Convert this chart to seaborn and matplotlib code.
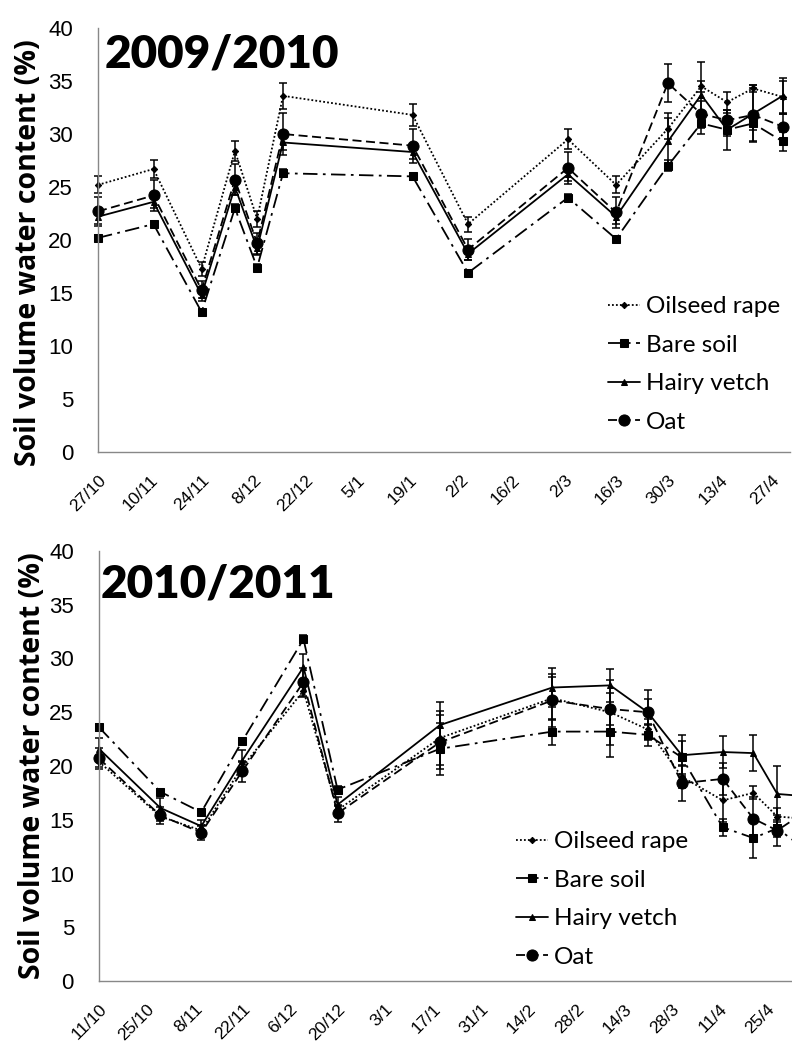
import matplotlib
matplotlib.use('Agg')
import matplotlib.pyplot as plt
import matplotlib.dates as mdates
import numpy as np
import pandas as pd
import seaborn as sns

treatments = ['Oilseed rape', 'Bare soil', 'Hairy vetch', 'Oat']

# 2009/2010 season
dates_0910 = ['2009-10-27', '2009-11-11', '2009-11-24', '2009-12-03', '2009-12-09',
              '2009-12-16', '2010-01-20', '2010-02-04', '2010-03-03', '2010-03-16',
              '2010-03-30', '2010-04-08', '2010-04-15', '2010-04-22', '2010-04-30']
oilseed_0910 = [25.2, 26.7, 17.3, 28.4, 22.0, 33.6, 31.8, 21.5, 29.5, 25.2, 30.5, 34.5, 33.0, 34.3, 33.5]
bare_0910 = [20.2, 21.5, 13.2, 23.0, 17.4, 26.3, 26.0, 16.9, 24.0, 20.1, 27.0, 31.0, 30.4, 31.0, 29.3]
vetch_0910 = [22.2, 23.6, 14.8, 25.0, 19.2, 29.2, 28.3, 18.7, 26.2, 22.2, 29.3, 33.7, 30.4, 31.9, 33.6]
oat_0910 = [22.7, 24.2, 15.3, 25.7, 19.7, 30.0, 28.9, 19.1, 26.8, 22.6, 34.8, 31.9, 31.3, 31.8, 30.7]
oilseed_err_0910 = [0.8, 0.85, 0.65, 0.95, 0.75, 1.2, 1.0, 0.7, 0.95, 0.8, 1.0, 0.5, 1.0, 0.3, 1.5]
bare_err_0910 = [0.3, 0.3, 0.3, 0.4, 0.3, 0.4, 0.3, 0.3, 0.3, 0.3, 0.5, 1.0, 0.6, 0.6, 0.9]
vetch_err_0910 = [0.7, 0.6, 0.6, 0.8, 0.6, 0.7, 0.7, 0.6, 0.6, 0.7, 2.7, 3.1, 1.9, 2.7, 1.7]
oat_err_0910 = [1.4, 1.5, 0.8, 1.5, 1.0, 2.0, 1.6, 1.0, 1.5, 1.5, 1.8, 1.2, 1.0, 2.5, 1.2]
ticks_0910 = pd.date_range('2009-10-27', periods=14, freq='14D')
xlim_0910 = ('2009-10-27', '2010-05-02')

# 2010/2011 season
dates_1011 = ['2010-10-11', '2010-10-29', '2010-11-10', '2010-11-22', '2010-12-10',
              '2010-12-20', '2011-01-19', '2011-02-21', '2011-03-10', '2011-03-21',
              '2011-03-31', '2011-04-12', '2011-04-21', '2011-04-28', '2011-05-06']
oilseed_1011 = [20.4, 15.3, 14.0, 19.9, 27.0, 15.9, 22.6, 26.3, 25.0, 23.4, 19.0, 16.8, 17.5, 15.3, 15.1]
bare_1011 = [23.6, 17.6, 15.7, 22.3, 31.8, 17.8, 21.6, 23.2, 23.2, 22.9, 20.8, 14.3, 13.3, 14.2, 12.3]
vetch_1011 = [21.6, 16.1, 14.4, 20.5, 29.2, 16.4, 23.8, 27.3, 27.5, 25.0, 21.0, 21.3, 21.2, 17.4, 17.2]
oat_1011 = [20.7, 15.4, 13.8, 19.5, 27.8, 15.6, 22.2, 26.1, 25.3, 25.0, 18.4, 18.8, 15.1, 14.0, 15.7]
oilseed_err_1011 = [0.5, 0.4, 0.4, 0.5, 0.6, 0.4, 2.5, 2.0, 3.0, 1.0, 1.0, 2.0, 0.6, 0.8, 0.5]
bare_err_1011 = [0.3, 0.3, 0.3, 0.3, 0.4, 0.3, 2.4, 1.2, 2.4, 1.0, 1.5, 0.8, 1.9, 0.8, 0.5]
vetch_err_1011 = [1.0, 0.9, 0.6, 1.0, 1.2, 0.7, 2.2, 1.8, 1.5, 2.1, 1.9, 1.5, 1.7, 2.6, 0.5]
oat_err_1011 = [1.0, 0.8, 0.7, 1.0, 1.3, 0.8, 2.5, 2.5, 1.5, 1.2, 1.7, 1.5, 2.0, 1.4, 0.5]
ticks_1011 = pd.date_range('2010-10-11', periods=15, freq='14D')
xlim_1011 = ('2010-10-11', '2011-05-02 08:00')

styles = {
    'Oilseed rape': dict(marker='D', markersize=3.2, linestyle=(0, (1, 1.2))),
    'Bare soil': dict(marker='s', markersize=5.5, linestyle=(0, (8, 3, 1.5, 3))),
    'Hairy vetch': dict(marker='^', markersize=5, linestyle='-'),
    'Oat': dict(marker='o', markersize=8, linestyle=(0, (5, 2.5))),
}

sns.set_style('white')
plt.rcParams['font.family'] = ['Liberation Sans', 'DejaVu Sans']
plt.rcParams['text.color'] = 'black'
plt.rcParams['axes.labelcolor'] = 'black'
plt.rcParams['xtick.color'] = 'black'
plt.rcParams['ytick.color'] = 'black'


def draw_panel(ax, dates, values, errors, ticks, xlim, title, title_xy, legend_xy, label_y):
    handles = []
    for name, vals, errs in zip(treatments, values, errors):
        df = pd.DataFrame({'date': pd.to_datetime(dates), 'swc': vals})
        sns.lineplot(data=df, x='date', y='swc', ax=ax, color='black', linewidth=1.3,
                     markeredgecolor='black', clip_on=False, **styles[name])
        handles.append(ax.lines[-1])
        ax.errorbar(df['date'], df['swc'], yerr=errs, fmt='none', ecolor='black',
                    elinewidth=1.1, capsize=3, capthick=1.1, clip_on=False)

    ax.set_ylim(0, 40)
    ax.set_yticks(np.arange(0, 41, 5))
    ax.set_xlim(pd.Timestamp(xlim[0]), pd.Timestamp(xlim[1]))
    ax.set_xticks(ticks)
    ax.xaxis.set_major_formatter(mdates.DateFormatter('%-d/%-m'))
    for lbl in ax.get_xticklabels():
        lbl.set_rotation(45)
        lbl.set_ha('right')
        lbl.set_rotation_mode('anchor')
    ax.tick_params(axis='x', labelsize=12.5, length=6, color='#888888', labelcolor='black',
                   pad=9, direction='out')
    ax.tick_params(axis='y', labelsize=16, length=7, color='#888888', labelcolor='black',
                   pad=11, direction='out')
    for side in ['top', 'right']:
        ax.spines[side].set_visible(False)
    for side in ['left', 'bottom']:
        ax.spines[side].set_color('#888888')
        ax.spines[side].set_linewidth(1.0)

    ax.set_xlabel('')
    ax.set_ylabel('Soil volume water content (%)', fontsize=20.5, fontweight='bold',
                  family='Open Sans', color='black')
    ax.yaxis.set_label_coords(label_y[0], label_y[1])

    fig.text(title_xy[0], title_xy[1], title, fontsize=33, fontweight='heavy', family='Lato',
             va='baseline', ha='left', color='black')

    ax.legend(handles, treatments, loc='upper left', bbox_to_anchor=legend_xy,
              bbox_transform=fig.transFigure, frameon=False,
              prop={'family': 'Lato', 'size': 17.5},
              handlelength=1.3, handletextpad=0.25, labelspacing=0.72, borderpad=0,
              borderaxespad=0)


W, H = 792, 1044
fig = plt.figure(figsize=(W / 100, H / 100), dpi=100)
ax_top = fig.add_axes([98 / W, 1 - 452 / H, (790 - 98) / W, 424 / H])
ax_bot = fig.add_axes([99 / W, 1 - 981 / H, (792 - 99) / W, 430 / H])

draw_panel(ax_top, dates_0910,
           [oilseed_0910, bare_0910, vetch_0910, oat_0910],
           [oilseed_err_0910, bare_err_0910, vetch_err_0910, oat_err_0910],
           ticks_0910, xlim_0910, '2009/2010', (105 / W, 1 - 68 / H),
           (608 / W, 1 - 296 / H), (-0.08, 0.47))
draw_panel(ax_bot, dates_1011,
           [oilseed_1011, bare_1011, vetch_1011, oat_1011],
           [oilseed_err_1011, bare_err_1011, vetch_err_1011, oat_err_1011],
           ticks_1011, xlim_1011, '2010/2011', (101 / W, 1 - 598 / H),
           (516 / W, 1 - 831 / H), (-0.075, 0.50))

fig.savefig('out.png', dpi=100)
